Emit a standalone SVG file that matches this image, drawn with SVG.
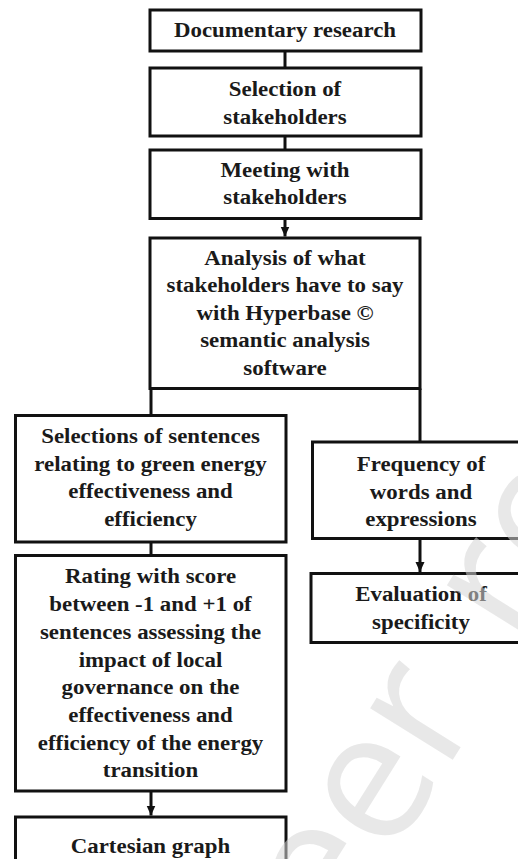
<svg xmlns="http://www.w3.org/2000/svg" width="518" height="859" viewBox="0 0 518 859">
<defs>
<style>
.box{fill:#ffffff;stroke:#111111;stroke-width:3}
.lbl{font-family:"Liberation Serif","Times New Roman",serif;font-weight:bold;font-size:21px;fill:#1a1a1a;text-anchor:middle}
.con{stroke:#111111;stroke-width:3;fill:none}
.wm{font-family:"Open Sans","Noto Sans",sans-serif;font-size:182px;fill:#d6d6d6;fill-opacity:0.55}
</style>
<marker id="ah" markerUnits="userSpaceOnUse" markerWidth="10" markerHeight="10" viewBox="0 0 10 10" refX="10" refY="5" orient="auto">
<path d="M0,0.5 L10,5 L0,9.5 z" fill="#111111"/>
</marker>
</defs>
<rect width="518" height="859" fill="#ffffff"/>
<g id="connectors">
<line class="con" x1="285" y1="51" x2="285" y2="68"/>
<line class="con" x1="285" y1="136" x2="285" y2="150"/>
<line class="con" x1="285" y1="218.5" x2="285" y2="236.5" marker-end="url(#ah)"/>
<line class="con" x1="151" y1="388.5" x2="151" y2="415.5"/>
<line class="con" x1="420" y1="388.5" x2="420" y2="442"/>
<line class="con" x1="420" y1="538.5" x2="420" y2="572" marker-end="url(#ah)"/>
<line class="con" x1="151" y1="542" x2="151" y2="555.5"/>
<line class="con" x1="151" y1="791" x2="151" y2="815.5" marker-end="url(#ah)"/>
</g>
<g id="n1">
<rect class="box" x="150" y="10" width="271" height="41"/>
<g transform="translate(285,0) scale(1.09,1)"><text class="lbl" x="0" y="37">Documentary research</text></g>
</g>
<g id="n2">
<rect class="box" x="150" y="68" width="271" height="68"/>
<g transform="translate(285,0) scale(1.09,1)">
<text class="lbl" x="0" y="96.5">Selection of</text>
<text class="lbl" x="0" y="124.5">stakeholders</text>
</g>
</g>
<g id="n3">
<rect class="box" x="150" y="150" width="271" height="68.5"/>
<g transform="translate(285,0) scale(1.09,1)">
<text class="lbl" x="0" y="177">Meeting with</text>
<text class="lbl" x="0" y="204">stakeholders</text>
</g>
</g>
<g id="n4">
<rect class="box" x="150" y="238" width="270" height="150.5"/>
<g transform="translate(285,0) scale(1.09,1)">
<text class="lbl" x="0" y="265">Analysis of what</text>
<text class="lbl" x="0" y="292.5">stakeholders have to say</text>
<text class="lbl" x="0" y="320">with Hyperbase ©</text>
<text class="lbl" x="0" y="347.5">semantic analysis</text>
<text class="lbl" x="0" y="375">software</text>
</g>
</g>
<g id="n5">
<rect class="box" x="15.5" y="415.5" width="270.5" height="126.5"/>
<g transform="translate(150.5,0) scale(1.09,1)">
<text class="lbl" x="0" y="443">Selections of sentences</text>
<text class="lbl" x="0" y="470.7">relating to green energy</text>
<text class="lbl" x="0" y="498.3">effectiveness and</text>
<text class="lbl" x="0" y="526">efficiency</text>
</g>
</g>
<g id="n6">
<rect class="box" x="312.5" y="442" width="217.5" height="96.5"/>
<g transform="translate(421,0) scale(1.09,1)">
<text class="lbl" x="0" y="471.5">Frequency of</text>
<text class="lbl" x="0" y="499">words and</text>
<text class="lbl" x="0" y="526.5">expressions</text>
</g>
</g>
<g id="n7">
<rect class="box" x="311" y="573.5" width="219" height="69"/>
<g transform="translate(421,0) scale(1.09,1)">
<text class="lbl" x="0" y="601.5">Evaluation of</text>
<text class="lbl" x="0" y="629">specificity</text>
</g>
</g>
<g id="n8">
<rect class="box" x="15.5" y="555.5" width="270.5" height="235.5"/>
<g transform="translate(150.5,0) scale(1.09,1)">
<text class="lbl" x="0" y="583.5">Rating with score</text>
<text class="lbl" x="0" y="611.2">between -1 and +1 of</text>
<text class="lbl" x="0" y="638.9">sentences assessing the</text>
<text class="lbl" x="0" y="666.6">impact of local</text>
<text class="lbl" x="0" y="694.3">governance on the</text>
<text class="lbl" x="0" y="722">effectiveness and</text>
<text class="lbl" x="0" y="749.7">efficiency of the energy</text>
<text class="lbl" x="0" y="777.4">transition</text>
</g>
</g>
<g id="n9">
<rect class="box" x="15.5" y="817" width="270.5" height="46"/>
<g transform="translate(150.5,0) scale(1.09,1)"><text class="lbl" x="0" y="853">Cartesian graph</text></g>
</g>
<g id="watermark">
<text class="wm" transform="translate(444.4,773) rotate(-58)" x="-315.8 -204.2 -102.1 0 74.6 145 219.6" y="0">peer reviewed</text>
</g>
</svg>
